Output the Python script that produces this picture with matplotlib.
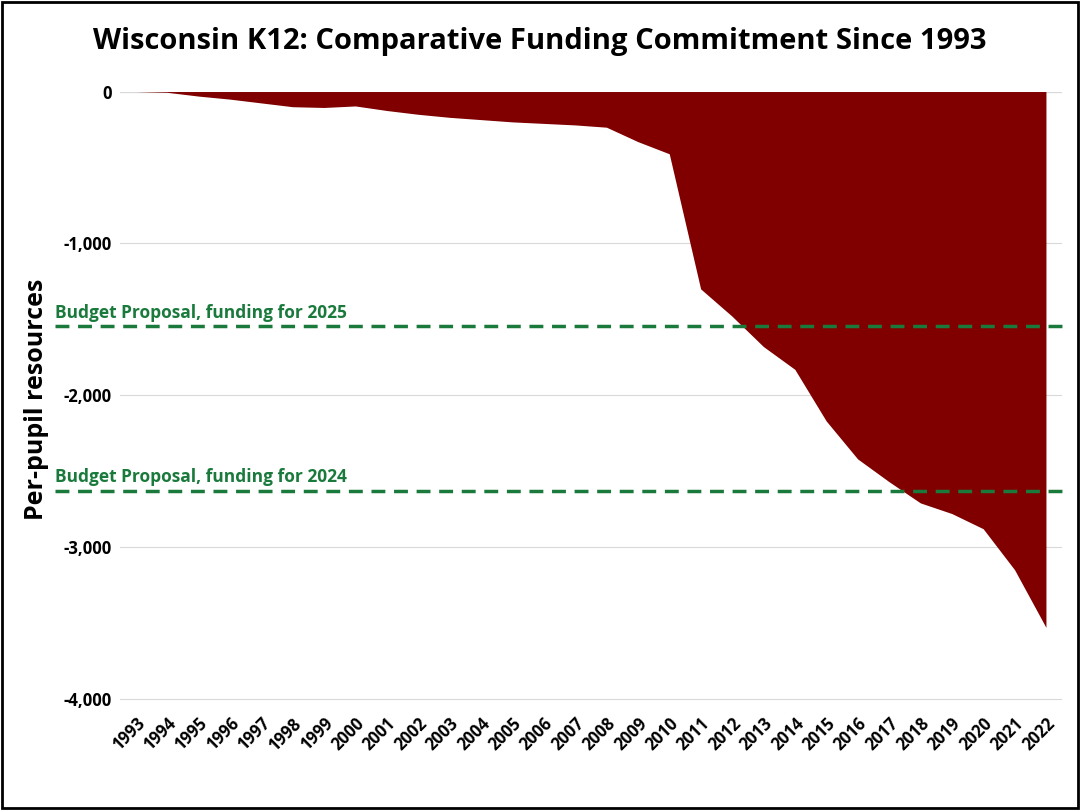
import matplotlib
matplotlib.use("Agg")
import matplotlib.pyplot as plt
from matplotlib.transforms import blended_transform_factory

years = list(range(1993, 2023))
values = [0, -5, -30, -50, -75, -100, -105, -95, -125, -150, -170, -185, -200, -210, -220, -235,
          -330, -410, -1300, -1480, -1680, -1830, -2170, -2420, -2570, -2710, -2780, -2880, -3150, -3530]
ref_labels = ["Budget Proposal, funding for 2025", "Budget Proposal, funding for 2024"]
ref_values = [-1545, -2630]

plt.rcParams['font.family'] = ['Open Sans', 'DejaVu Sans']
fig = plt.figure(figsize=(10.8, 8.1), dpi=100)
ax = fig.add_axes([0.111, 0.128, 0.872, 0.759])
x = list(range(len(years)))
ax.fill_between(x, values, 0, color='#800000', linewidth=0)
ax.set_xlim(-0.5, len(years) - 0.5)
ax.set_ylim(-4050, 0)
ax.set_yticks([0, -1000, -2000, -3000, -4000])
ax.set_yticklabels(['0', '-1,000', '-2,000', '-3,000', '-4,000'], fontweight='bold', fontsize=12)
ax.set_xticks(x)
ax.set_xticklabels([str(y) for y in years], rotation=45, ha='right', rotation_mode='anchor',
                   fontweight='bold', fontsize=12)
ax.grid(axis='y', color='#d9d9d9', linewidth=0.8)
ax.set_axisbelow(True)
for s in ax.spines.values():
    s.set_visible(False)
ax.tick_params(length=0, pad=6)
ax.axhline(0, color='#bfbfbf', linewidth=0.8, zorder=0)
tr = blended_transform_factory(fig.transFigure, ax.transData)
for lab, v in zip(ref_labels, ref_values):
    ax.plot([0.051, 0.987], [v, v], transform=tr, clip_on=False, color='#1a7a3c',
            linestyle='--', linewidth=2.5, dashes=(4, 2.5))
    ax.text(0.051, v + 30, lab, transform=tr, color='#1a7a3c', fontweight='bold',
            fontsize=12.5, va='bottom')
ax.set_ylabel('Per-pupil resources', fontweight='bold', fontsize=18, labelpad=10)
fig.text(0.5, 0.94, 'Wisconsin K12: Comparative Funding Commitment Since 1993',
         ha='center', fontweight='bold', fontsize=21)
fig.patches.append(plt.Rectangle((0.002, 0.002), 0.996, 0.996, transform=fig.transFigure,
                                 fill=False, edgecolor='black', linewidth=2))
fig.savefig('out.png', dpi=100)
